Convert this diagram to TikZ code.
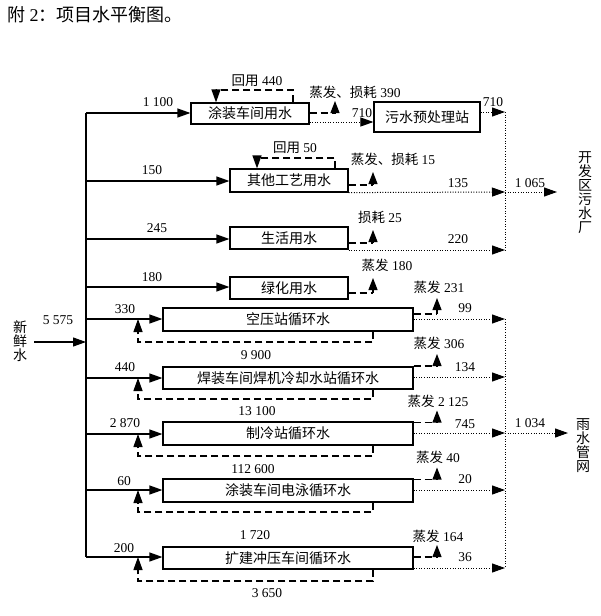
\documentclass[tikz,border=0pt]{standalone}
\usepackage{fontspec}
\setmainfont{Liberation Serif}
\newfontfamily\cjk{Noto Sans CJK SC}
\usetikzlibrary{arrows.meta}
\begin{document}
\begin{tikzpicture}[x=1pt,y=-1pt,
 box/.style={draw, line width=1.2pt, inner sep=0pt, font=\cjk\fontsize{14}{16}\selectfont},
 lbl/.style={inner sep=0pt, font=\fontsize{13.5}{15}\selectfont},
 vtext/.style={inner sep=0pt, align=center, font=\cjk\fontsize{14}{14}\selectfont},
 main/.style={line width=1.2pt, -{Triangle[length=13pt,width=9pt]}},
 feed/.style={line width=1.2pt},
 dsh/.style={line width=1.3pt, dash pattern=on 7pt off 4pt},
 dsharr/.style={line width=1.3pt, dash pattern=on 7pt off 4pt, -{Triangle[length=13pt,width=9pt]}},
 dot/.style={line width=1pt, dash pattern=on 1pt off 1.6pt, -{Triangle[length=13pt,width=9pt]}},
 dotl/.style={line width=1pt, dash pattern=on 1pt off 1.6pt},
 tri/.style={line width=1.2pt, -{Triangle[length=12pt,width=9pt]}}
]
\useasboundingbox (0,0) rectangle (601,616);

% title
\node[anchor=west, inner sep=0pt, font=\fontsize{18}{20}\selectfont] (title) at (7,15) {{\cjk 附} 2{\cjk ：项目水平衡图。}};

% boxes
\node[box, minimum width=118pt, minimum height=21pt] (b1) at (250,113.5) {涂装车间用水};
\node[box, minimum width=106pt, minimum height=30pt] (p) at (427,117) {污水预处理站};
\node[box, minimum width=118pt, minimum height=23pt] (b2) at (289,180.5) {其他工艺用水};
\node[box, minimum width=118pt, minimum height=22pt] (b3) at (289,238) {生活用水};
\node[box, minimum width=118pt, minimum height=22pt] (b4) at (289,288) {绿化用水};
\node[box, minimum width=250pt, minimum height=23pt] (c1) at (288,319.5) {空压站循环水};
\node[box, minimum width=250pt, minimum height=22pt] (c2) at (288,378) {焊装车间焊机冷却水站循环水};
\node[box, minimum width=250pt, minimum height=23pt] (c3) at (288,433.5) {制冷站循环水};
\node[box, minimum width=250pt, minimum height=23pt] (c4) at (288,490.5) {涂装车间电泳循环水};
\node[box, minimum width=250pt, minimum height=22pt] (c5) at (288,558) {扩建冲压车间循环水};

% source
\node[vtext] (src) at (20,341) {新\\鲜\\水};
\node[lbl] (l0) at (58,320) {5 575};
\coordinate (in) at (34,342);
\coordinate (tin) at (86,342);
\draw[main] (in) -- (tin);

% trunk
\coordinate (t1) at (86,113);
\coordinate (t2) at (86,181);
\coordinate (t3) at (86,239);
\coordinate (t4) at (86,287);
\coordinate (t5) at (86,319);
\coordinate (t6) at (86,378);
\coordinate (t7) at (86,434);
\coordinate (t8) at (86,490);
\coordinate (t9) at (86,557);
\draw[feed] (t1) -- (t9);

\draw[main] (t1) -- (b1.west |- t1);
\draw[main] (t2) -- (b2.west |- t2);
\draw[main] (t3) -- (b3.west |- t3);
\draw[main] (t4) -- (b4.west |- t4);
\draw[main] (t5) -- (c1.west |- t5);
\draw[main] (t6) -- (c2.west |- t6);
\draw[main] (t7) -- (c3.west |- t7);
\draw[main] (t8) -- (c4.west |- t8);
\draw[main] (t9) -- (c5.west |- t9);

\node[lbl] (f1) at (158,102) {1 100};
\node[lbl] (f2) at (152,170) {150};
\node[lbl] (f3) at (157,228) {245};
\node[lbl] (f4) at (152,277) {180};
\node[lbl] (f5) at (125,309) {330};
\node[lbl] (f6) at (125,367) {440};
\node[lbl] (f7) at (125,423) {2 870};
\node[lbl] (f8) at (124,481) {60};
\node[lbl] (f9) at (124,548) {200};

% reuse loops top
\draw[dsharr] (b1.north -| 293,0) |- (216,90) -- (b1.north -| 216,0);
\node[lbl] (r1) at (257,81) {{\cjk 回用} 440};
\draw[dsharr] (b2.north -| 335,0) |- (257,158) -- (b2.north -| 257,0);
\node[lbl] (r2) at (295,148) {{\cjk 回用} 50};

% circulation loops
\coordinate (k1) at (138,342);
\coordinate (k2) at (138,399);
\coordinate (k3) at (138,456);
\coordinate (k4) at (138,512);
\coordinate (k5) at (138,581);
\draw[dsharr] (c1.south -| 373,0) |- (k1) -- (k1 |- t5);
\draw[dsharr] (c2.south -| 373,0) |- (k2) -- (k2 |- t6);
\draw[dsharr] (c3.south -| 373,0) |- (k3) -- (k3 |- t7);
\draw[dsharr] (c4.south -| 373,0) |- (k4) -- (k4 |- t8);
\draw[dsharr] (c5.south -| 373,0) |- (k5) -- (k5 |- t9);
\node[lbl] (rc1) at (256,355) {9 900};
\node[lbl] (rc2) at (257,411) {13 100};
\node[lbl] (rc3) at (253,469) {112 600};
\node[lbl] (rc4) at (255,535) {1 720};
\node[lbl] (rc5) at (267,593) {3 650};

% evaporation
\coordinate (e1) at (335,113);
\coordinate (e2) at (373,185);
\coordinate (e3) at (373,243);
\coordinate (e4) at (373,293);
\coordinate (e5) at (437,314);
\coordinate (e6) at (437,366);
\coordinate (e7) at (437,422.5);
\coordinate (e8) at (437,479.5);
\coordinate (e9) at (437,557);
\draw[dsh] (b1.east |- e1) -- (e1); \draw[tri] (e1) -- ++(0,-12);
\draw[dsh] (b2.east |- e2) -- (e2); \draw[tri] (e2) -- ++(0,-13);
\draw[dsh] (b3.east |- e3) -- (e3); \draw[tri] (e3) -- ++(0,-13);
\draw[dsh] (b4.east |- e4) -- (e4); \draw[tri] (e4) -- ++(0,-15);
\draw[dsh] (c1.east |- e5) -- (e5); \draw[tri] (e5) -- ++(0,-16);
\draw[dsh] (c2.east |- e6) -- (e6); \draw[tri] (e6) -- ++(0,-12);
\draw[dsh] (c3.east |- e7) -- (e7); \draw[tri] (e7) -- ++(0,-12);
\draw[dsh] (c4.east |- e8) -- (e8); \draw[tri] (e8) -- ++(0,-12);
\draw[dsh] (c5.east |- e9) -- (e9); \draw[tri] (e9) -- ++(0,-12);
\node[lbl] (v1) at (355,92) {{\cjk 蒸发、损耗} 390};
\node[lbl] (v2) at (393,159) {{\cjk 蒸发、损耗} 15};
\node[lbl] (v3) at (380,217) {{\cjk 损耗} 25};
\node[lbl] (v4) at (387,265) {{\cjk 蒸发} 180};
\node[lbl] (v5) at (439,287) {{\cjk 蒸发} 231};
\node[lbl] (v6) at (439,343) {{\cjk 蒸发} 306};
\node[lbl] (v7) at (438,401) {{\cjk 蒸发} 2 125};
\node[lbl] (v8) at (438,457) {{\cjk 蒸发} 40};
\node[lbl] (v9) at (438,536) {{\cjk 蒸发} 164};

% sewage outputs
\coordinate (s1) at (505,112);
\coordinate (s2) at (505,192);
\coordinate (s3) at (505,250);
\coordinate (so) at (557,192);
\draw[dot] (b1.east |- 0,122) -- (p.west |- 0,122);
\node[lbl] (o0) at (362,113) {710};
\draw[dot] (p.east |- s1) -- (s1);
\node[lbl] (o1) at (493,102) {710};
\draw[dot] (b2.south east) -- (s2);
\node[lbl] (o2) at (458,183) {135};
\draw[dot] (b3.east |- s3) -- (s3);
\node[lbl] (o3) at (458,239) {220};
\draw[dotl] (s1) -- (s3);
\draw[dot] (s2) -- (so);
\node[lbl] (o4) at (530,183) {1 065};
\node[vtext] (sink1) at (585,193) {开\\发\\区\\污\\水\\厂};

% rain outputs
\coordinate (w1) at (505,319);
\coordinate (w2) at (505,377);
\coordinate (w3) at (505,433);
\coordinate (w4) at (505,490);
\coordinate (w5) at (505,568);
\coordinate (wo) at (568,433);
\draw[dot] (c1.east |- w1) -- (w1);
\draw[dot] (c2.east |- w2) -- (w2);
\draw[dot] (c3.east |- w3) -- (w3);
\draw[dot] (c4.east |- w4) -- (w4);
\draw[dot] (c5.east |- w5) -- (w5);
\draw[dotl] (w1) -- (w5);
\draw[dot] (w3) -- (wo);
\node[lbl] (q1) at (465,308) {99};
\node[lbl] (q2) at (465,367) {134};
\node[lbl] (q3) at (465,424) {745};
\node[lbl] (q4) at (465,479) {20};
\node[lbl] (q5) at (465,557) {36};
\node[lbl] (q0) at (530,423) {1 034};
\node[vtext] (sink2) at (583,446) {雨\\水\\管\\网};
\end{tikzpicture}
\end{document}
